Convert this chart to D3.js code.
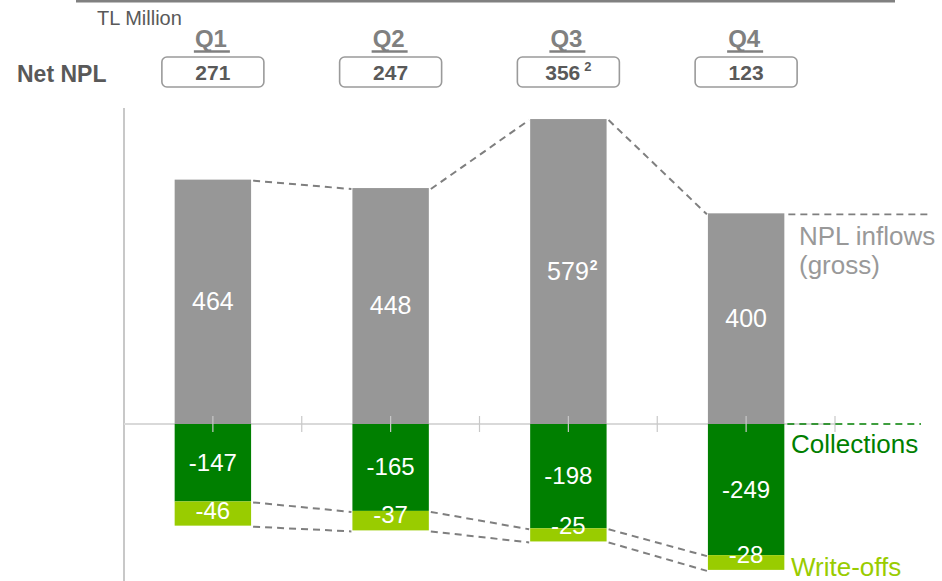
<!DOCTYPE html>
<html>
<head>
<meta charset="utf-8">
<script src="https://cdn.jsdelivr.net/npm/d3@7/dist/d3.min.js"></script>
<style>
  html, body { margin: 0; padding: 0; background: #fff; }
  svg { display: block; font-family: "Liberation Sans", Arial, sans-serif; }
</style>
</head>
<body>
<svg id="chart" width="942" height="581"></svg>
<script>
// Quarterly NPL movements, TL Million
const quarters = ["Q1", "Q2", "Q3", "Q4"];
const netNpl = [271, 247, 356, 123];
const netNplNote = ["", "", "2", ""];
const inflows = [464, 448, 579, 400];
const inflowNote = ["", "", "2", ""];
const collections = [-147, -165, -198, -249];
const writeOffs = [-46, -37, -25, -28];
const seriesNames = ["NPL inflows", "(gross)", "Collections", "Write-offs"];

const GREY = "#979797", DARK_GREEN = "#007f00", LIGHT_GREEN = "#99cc00";
const TEXT_GREY = "#595959", LINE_GREY = "#7f7f7f";

const svg = d3.select("#chart");

const x = d3.scaleBand()
  .domain(quarters)
  .range([124, 835])
  .paddingInner(0.57)
  .paddingOuter(0.285);

const y = d3.scaleLinear().domain([-300, 600]).range([582, 108]);

const rows = quarters.map((q, i) => ({
  q, i,
  net: netNpl[i], netNote: netNplNote[i],
  inflow: inflows[i], inflowNote: inflowNote[i],
  coll: collections[i],
  wo: writeOffs[i],
  collEnd: collections[i],
  woEnd: collections[i] + writeOffs[i]
}));

// Header rule
svg.append("line")
  .attr("x1", 76).attr("x2", 895).attr("y1", 1.2).attr("y2", 1.2)
  .attr("stroke", "#808080").attr("stroke-width", 2.6);

svg.append("text")
  .attr("x", 97).attr("y", 25)
  .attr("font-size", 20).attr("fill", TEXT_GREY)
  .text("TL Million");

svg.append("text")
  .attr("x", 17).attr("y", 82)
  .attr("font-size", 23).attr("font-weight", "bold").attr("fill", TEXT_GREY)
  .text("Net NPL");

// Quarter headings with Net NPL boxes
const head = svg.append("g").selectAll("g").data(rows).join("g")
  .attr("transform", d => `translate(${x(d.q) + x.bandwidth() / 2},0)`);

head.append("text")
  .attr("x", -2).attr("y", 47)
  .attr("text-anchor", "middle")
  .attr("font-size", 24).attr("font-weight", "bold").attr("fill", "#808080")
  .text(d => d.q);

head.append("line")
  .attr("x1", -19).attr("x2", 17).attr("y1", 51.5).attr("y2", 51.5)
  .attr("stroke", "#808080").attr("stroke-width", 2.4);

head.append("rect")
  .attr("x", -51).attr("y", 57).attr("width", 102).attr("height", 30)
  .attr("rx", 5).attr("ry", 5)
  .attr("fill", "#fff").attr("stroke", "#9a9a9a").attr("stroke-width", 1.6);

const boxText = head.append("text")
  .attr("y", 80)
  .attr("text-anchor", "middle")
  .attr("font-size", 21).attr("font-weight", "bold").attr("fill", TEXT_GREY);
boxText.append("tspan").text(d => d.net);
boxText.filter(d => d.netNote).append("tspan")
  .attr("dx", 4).attr("dy", -9).attr("font-size", 13)
  .text(d => d.netNote);

// Axes
svg.append("line")
  .attr("x1", 124).attr("x2", 124).attr("y1", y(600)).attr("y2", y(-300))
  .attr("stroke", "#c8c8c8").attr("stroke-width", 2);

svg.append("line")
  .attr("x1", 124).attr("x2", 835).attr("y1", y(0)).attr("y2", y(0))
  .attr("stroke", "#d9d9d9").attr("stroke-width", 2);

const tickXs = [];
quarters.forEach(q => {
  tickXs.push(x(q) + x.bandwidth() / 2);
  tickXs.push(x(q) + x.bandwidth() / 2 + x.step() / 2);
});

// Bars
const bars = svg.append("g");
bars.selectAll(".inflow").data(rows).join("rect")
  .attr("x", d => x(d.q)).attr("width", x.bandwidth())
  .attr("y", d => y(d.inflow)).attr("height", d => y(0) - y(d.inflow))
  .attr("fill", GREY);

bars.selectAll(".coll").data(rows).join("rect")
  .attr("x", d => x(d.q)).attr("width", x.bandwidth())
  .attr("y", y(0)).attr("height", d => y(d.collEnd) - y(0))
  .attr("fill", DARK_GREEN);

bars.selectAll(".wo").data(rows).join("rect")
  .attr("x", d => x(d.q)).attr("width", x.bandwidth())
  .attr("y", d => y(d.collEnd)).attr("height", d => y(d.woEnd) - y(d.collEnd))
  .attr("fill", LIGHT_GREEN);

svg.append("g").selectAll("line").data(tickXs).join("line")
  .attr("x1", d => d).attr("x2", d => d)
  .attr("y1", y(0) - 8).attr("y2", y(0) + 8)
  .attr("stroke", "#c8c8c8").attr("stroke-width", 1.2);

// Dashed connectors between adjacent quarters
const dash = svg.append("g")
  .attr("fill", "none").attr("stroke", LINE_GREY)
  .attr("stroke-width", 2).attr("stroke-dasharray", "7,5");

const pairs = d3.pairs(rows);
["inflow", "collEnd", "woEnd"].forEach(key => {
  dash.selectAll(null).data(pairs).join("line")
    .attr("x1", ([a]) => x(a.q) + x.bandwidth() + 2)
    .attr("y1", ([a]) => y(a[key]) + 1)
    .attr("x2", ([, b]) => x(b.q) - 1)
    .attr("y2", ([, b]) => y(b[key]) + 1);
});

const last = rows[rows.length - 1];
svg.append("line")
  .attr("x1", x(last.q) + x.bandwidth() + 4).attr("x2", 932)
  .attr("y1", y(last.inflow) + 1).attr("y2", y(last.inflow) + 1)
  .attr("stroke", LINE_GREY).attr("stroke-width", 1.6).attr("stroke-dasharray", "7,5");

svg.append("line")
  .attr("x1", x(last.q) + x.bandwidth() + 3).attr("x2", 921)
  .attr("y1", y(0)).attr("y2", y(0))
  .attr("stroke", DARK_GREEN).attr("stroke-width", 1.6).attr("stroke-dasharray", "7,5");

// Value labels
const labels = svg.append("g")
  .attr("fill", "#fff").attr("text-anchor", "middle");

const inflowText = labels.selectAll(".il").data(rows).join("text")
  .attr("font-size", 25)
  .attr("x", d => x(d.q) + x.bandwidth() / 2 + (d.inflowNote ? 4 : 0))
  .attr("y", d => (y(d.inflow) + y(0)) / 2 + 8);
inflowText.append("tspan").text(d => d.inflow);
inflowText.filter(d => d.inflowNote).append("tspan")
  .attr("dx", 1).attr("dy", -10).attr("font-size", 14).attr("font-weight", "bold")
  .text(d => d.inflowNote);

labels.selectAll(".cl").data(rows).join("text")
  .attr("font-size", 24)
  .attr("x", d => x(d.q) + x.bandwidth() / 2)
  .attr("y", d => (y(0) + y(d.collEnd)) / 2 + 8)
  .text(d => d.coll);

labels.selectAll(".wl").data(rows).join("text")
  .attr("font-size", 24)
  .attr("x", d => x(d.q) + x.bandwidth() / 2)
  .attr("y", d => y(d.woEnd) - 7)
  .text(d => d.wo);

// Series names at the right
svg.append("text").attr("x", 799).attr("y", 245)
  .attr("font-size", 26).attr("fill", "#999")
  .text(seriesNames[0]);
svg.append("text").attr("x", 799).attr("y", 274)
  .attr("font-size", 26).attr("fill", "#999")
  .text(seriesNames[1]);
svg.append("text").attr("x", 791).attr("y", 453)
  .attr("font-size", 26).attr("fill", DARK_GREEN)
  .text(seriesNames[2]);
svg.append("text").attr("x", 791).attr("y", 576)
  .attr("font-size", 26).attr("fill", LIGHT_GREEN)
  .text(seriesNames[3]);
</script>
</body>
</html>
